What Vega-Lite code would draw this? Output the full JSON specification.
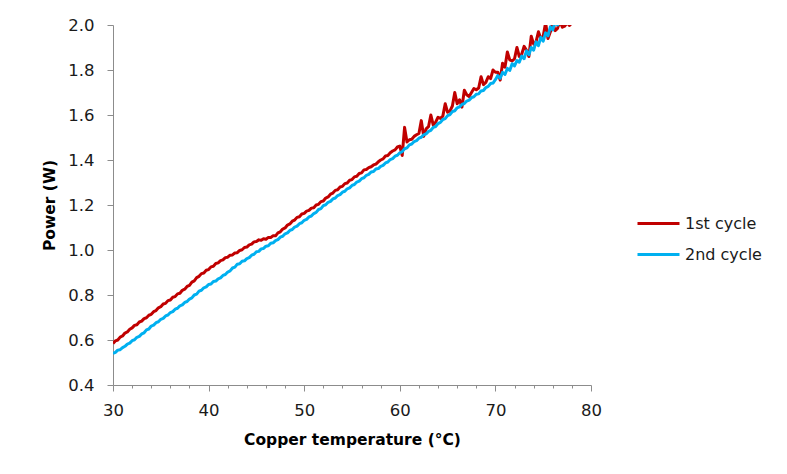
{
  "$schema": "https://vega.github.io/schema/vega-lite/v6.json",
  "autosize": {"type": "none"},
  "width": 478,
  "height": 360,
  "padding": {"left": 113, "top": 25, "right": 196, "bottom": 89},
  "background": "white",
  "config": {
    "view": {"stroke": null},
    "axis": {
      "labelFont": "DejaVu Sans", "labelFontSize": 16.5, "labelColor": "#1a1a1a",
      "titleFont": "DejaVu Sans", "titleFontWeight": "bold", "titleFontSize": 15.5, "titleColor": "#000000",
      "domain": true, "domainColor": "#8c8c8c", "domainWidth": 1, "tickColor": "#8c8c8c", "tickWidth": 1, "grid": false, "labelFlush": false
    },
    "legend": {"labelFont": "DejaVu Sans", "labelFontSize": 16, "labelColor": "#1a1a1a"}
  },
  "data": {"values": [
    {"t":30,"r":0.585,"b":0.540},{"t":30.25,"r":0.596,"b":0.545},{"t":30.5,"r":0.600,"b":0.555},{"t":30.75,"r":0.613,"b":0.557},
    {"t":31,"r":0.618,"b":0.566},{"t":31.25,"r":0.631,"b":0.572},{"t":31.5,"r":0.636,"b":0.582},{"t":31.75,"r":0.648,"b":0.586},
    {"t":32,"r":0.654,"b":0.597},{"t":32.25,"r":0.665,"b":0.601},{"t":32.5,"r":0.668,"b":0.612},{"t":32.75,"r":0.680,"b":0.616},
    {"t":33,"r":0.684,"b":0.627},{"t":33.25,"r":0.695,"b":0.632},{"t":33.5,"r":0.699,"b":0.645},{"t":33.75,"r":0.710,"b":0.649},
    {"t":34,"r":0.714,"b":0.662},{"t":34.25,"r":0.726,"b":0.666},{"t":34.5,"r":0.731,"b":0.677},{"t":34.75,"r":0.743,"b":0.681},
    {"t":35,"r":0.748,"b":0.692},{"t":35.25,"r":0.760,"b":0.696},{"t":35.5,"r":0.763,"b":0.707},{"t":35.75,"r":0.775,"b":0.711},
    {"t":36,"r":0.778,"b":0.722},{"t":36.25,"r":0.790,"b":0.726},{"t":36.5,"r":0.793,"b":0.737},{"t":36.75,"r":0.805,"b":0.741},
    {"t":37,"r":0.808,"b":0.752},{"t":37.25,"r":0.821,"b":0.756},{"t":37.5,"r":0.826,"b":0.767},{"t":37.75,"r":0.838,"b":0.771},
    {"t":38,"r":0.843,"b":0.782},{"t":38.25,"r":0.857,"b":0.787},{"t":38.5,"r":0.863,"b":0.800},{"t":38.75,"r":0.877,"b":0.804},
    {"t":39,"r":0.883,"b":0.817},{"t":39.25,"r":0.895,"b":0.821},{"t":39.5,"r":0.898,"b":0.832},{"t":39.75,"r":0.910,"b":0.836},
    {"t":40,"r":0.913,"b":0.847},{"t":40.25,"r":0.925,"b":0.849},{"t":40.5,"r":0.928,"b":0.860},{"t":40.75,"r":0.940,"b":0.862},
    {"t":41,"r":0.943,"b":0.872},{"t":41.25,"r":0.953,"b":0.876},{"t":41.5,"r":0.956,"b":0.887},{"t":41.75,"r":0.966,"b":0.891},
    {"t":42,"r":0.968,"b":0.902},{"t":42.25,"r":0.977,"b":0.907},{"t":42.5,"r":0.978,"b":0.920},{"t":42.75,"r":0.987,"b":0.924},
    {"t":43,"r":0.988,"b":0.937},{"t":43.25,"r":0.998,"b":0.939},{"t":43.5,"r":1.001,"b":0.950},{"t":43.75,"r":1.011,"b":0.952},
    {"t":44,"r":1.013,"b":0.962},{"t":44.25,"r":1.023,"b":0.966},{"t":44.5,"r":1.026,"b":0.977},{"t":44.75,"r":1.036,"b":0.981},
    {"t":45,"r":1.038,"b":0.992},{"t":45.25,"r":1.045,"b":0.994},{"t":45.5,"r":1.043,"b":1.005},{"t":45.75,"r":1.050,"b":1.007},
    {"t":46,"r":1.048,"b":1.017},{"t":46.25,"r":1.056,"b":1.019},{"t":46.5,"r":1.056,"b":1.030},{"t":46.75,"r":1.063,"b":1.032},
    {"t":47,"r":1.063,"b":1.042},{"t":47.25,"r":1.076,"b":1.046},{"t":47.5,"r":1.081,"b":1.057},{"t":47.75,"r":1.093,"b":1.061},
    {"t":48,"r":1.098,"b":1.072},{"t":48.25,"r":1.111,"b":1.076},{"t":48.5,"r":1.116,"b":1.087},{"t":48.75,"r":1.128,"b":1.091},
    {"t":49,"r":1.133,"b":1.102},{"t":49.25,"r":1.145,"b":1.106},{"t":49.5,"r":1.148,"b":1.117},{"t":49.75,"r":1.160,"b":1.121},
    {"t":50,"r":1.163,"b":1.132},{"t":50.25,"r":1.173,"b":1.136},{"t":50.5,"r":1.176,"b":1.147},{"t":50.75,"r":1.186,"b":1.151},
    {"t":51,"r":1.188,"b":1.162},{"t":51.25,"r":1.200,"b":1.167},{"t":51.5,"r":1.203,"b":1.180},{"t":51.75,"r":1.215,"b":1.184},
    {"t":52,"r":1.218,"b":1.197},{"t":52.25,"r":1.231,"b":1.201},{"t":52.5,"r":1.236,"b":1.212},{"t":52.75,"r":1.248,"b":1.216},
    {"t":53,"r":1.253,"b":1.227},{"t":53.25,"r":1.265,"b":1.231},{"t":53.5,"r":1.268,"b":1.242},{"t":53.75,"r":1.280,"b":1.246},
    {"t":54,"r":1.283,"b":1.257},{"t":54.25,"r":1.295,"b":1.261},{"t":54.5,"r":1.298,"b":1.272},{"t":54.75,"r":1.310,"b":1.276},
    {"t":55,"r":1.313,"b":1.287},{"t":55.25,"r":1.325,"b":1.291},{"t":55.5,"r":1.328,"b":1.302},{"t":55.75,"r":1.340,"b":1.306},
    {"t":56,"r":1.343,"b":1.317},{"t":56.25,"r":1.356,"b":1.321},{"t":56.5,"r":1.358,"b":1.332},{"t":56.75,"r":1.366,"b":1.336},
    {"t":57,"r":1.370,"b":1.347},{"t":57.25,"r":1.378,"b":1.349},{"t":57.5,"r":1.382,"b":1.360},{"t":57.75,"r":1.392,"b":1.362},
    {"t":58,"r":1.400,"b":1.372},{"t":58.25,"r":1.405,"b":1.376},{"t":58.5,"r":1.418,"b":1.387},{"t":58.75,"r":1.420,"b":1.391},
    {"t":59,"r":1.432,"b":1.402},{"t":59.25,"r":1.440,"b":1.406},{"t":59.5,"r":1.445,"b":1.417},{"t":59.75,"r":1.458,"b":1.421},
    {"t":60,"r":1.462,"b":1.432},{"t":60.25,"r":1.420,"b":1.437},{"t":60.5,"r":1.545,"b":1.450},{"t":60.75,"r":1.480,"b":1.454},
    {"t":61,"r":1.490,"b":1.467},{"t":61.25,"r":1.492,"b":1.471},{"t":61.5,"r":1.505,"b":1.482},{"t":61.75,"r":1.512,"b":1.486},
    {"t":62,"r":1.518,"b":1.497},{"t":62.25,"r":1.575,"b":1.501},{"t":62.5,"r":1.505,"b":1.512},{"t":62.75,"r":1.538,"b":1.516},
    {"t":63,"r":1.548,"b":1.527},{"t":63.25,"r":1.600,"b":1.532},{"t":63.5,"r":1.555,"b":1.545},{"t":63.75,"r":1.568,"b":1.549},
    {"t":64,"r":1.590,"b":1.562},{"t":64.25,"r":1.585,"b":1.567},{"t":64.5,"r":1.595,"b":1.580},{"t":64.75,"r":1.650,"b":1.584},
    {"t":65,"r":1.612,"b":1.597},{"t":65.25,"r":1.618,"b":1.602},{"t":65.5,"r":1.640,"b":1.615},{"t":65.75,"r":1.700,"b":1.619},
    {"t":66,"r":1.650,"b":1.632},{"t":66.25,"r":1.668,"b":1.636},{"t":66.5,"r":1.635,"b":1.647},{"t":66.75,"r":1.710,"b":1.651},
    {"t":67,"r":1.690,"b":1.662},{"t":67.25,"r":1.682,"b":1.666},{"t":67.5,"r":1.700,"b":1.677},{"t":67.75,"r":1.718,"b":1.681},
    {"t":68,"r":1.712,"b":1.692},{"t":68.25,"r":1.720,"b":1.694},{"t":68.5,"r":1.770,"b":1.707},{"t":68.75,"r":1.735,"b":1.709},
    {"t":69,"r":1.745,"b":1.722},{"t":69.25,"r":1.770,"b":1.727},{"t":69.5,"r":1.762,"b":1.740},{"t":69.75,"r":1.800,"b":1.742},
    {"t":70,"r":1.790,"b":1.757},{"t":70.25,"r":1.790,"b":1.775},{"t":70.5,"r":1.755,"b":1.763},{"t":70.75,"r":1.830,"b":1.790},
    {"t":71,"r":1.812,"b":1.780},{"t":71.25,"r":1.880,"b":1.807},{"t":71.5,"r":1.845,"b":1.798},{"t":71.75,"r":1.840,"b":1.828},
    {"t":72,"r":1.850,"b":1.818},{"t":72.25,"r":1.900,"b":1.842},{"t":72.5,"r":1.860,"b":1.835},{"t":72.75,"r":1.870,"b":1.862},
    {"t":73,"r":1.905,"b":1.850},{"t":73.25,"r":1.888,"b":1.885},{"t":73.5,"r":1.860,"b":1.868},{"t":73.75,"r":1.950,"b":1.900},
    {"t":74,"r":1.915,"b":1.888},{"t":74.25,"r":1.925,"b":1.925},{"t":74.5,"r":1.970,"b":1.908},{"t":74.75,"r":1.940,"b":1.945},
    {"t":75,"r":1.950,"b":1.928},{"t":75.25,"r":2.010,"b":1.965},{"t":75.5,"r":1.940,"b":1.952},{"t":75.75,"r":1.970,"b":1.992},
    {"t":76,"r":2.010,"b":1.978},{"t":76.25,"r":1.975,"b":2.015},{"t":76.5,"r":1.985,"b":2.000},{"t":76.75,"r":2.020,"b":2.040},
    {"t":77,"r":1.990,"b":2.030},{"t":77.25,"r":1.995,"b":null},{"t":77.5,"r":2.010,"b":null},{"t":77.75,"r":1.998,"b":null},
    {"t":78,"r":2.010,"b":null}
  ]},
  "transform": [{"fold": ["r", "b"], "as": ["cycle", "p"]}],
  "layer": [
    {
      "mark": {"type": "line", "strokeWidth": 3, "clip": true, "strokeJoin": "round"},
      "encoding": {
        "x": {"field": "t", "type": "quantitative",
          "scale": {"domain": [30, 80], "nice": false, "zero": false},
          "axis": {"orient": "bottom", "title": "Copper temperature (°C)", "values": [30, 40, 50, 60, 70, 80], "tickSize": 6, "labelPadding": 11, "titlePadding": 14}},
        "y": {"field": "p", "type": "quantitative",
          "scale": {"domain": [0.4, 2.0], "nice": false, "zero": false},
          "axis": {"orient": "left", "title": "Power (W)", "values": [0.4, 0.6, 0.8, 1.0, 1.2, 1.4, 1.6, 1.8, 2.0], "format": ".1f", "tickSize": 6, "labelPadding": 13, "titlePadding": 10}},
        "color": {"field": "cycle", "type": "nominal",
          "scale": {"domain": ["r", "b"], "range": ["#C00000", "#00B0F0"]},
          "legend": {"title": null, "orient": "none", "legendX": 523, "legendY": 176,
            "symbolType": "stroke", "symbolSize": 1764, "symbolStrokeWidth": 3,
            "labelOffset": 4, "rowPadding": -7,
            "labelExpr": "datum.label == 'r' ? '1st cycle' : '2nd cycle'"}}
      }
    },
    {
      "mark": {"type": "line", "opacity": 0},
      "encoding": {
        "x": {"field": "t", "type": "quantitative",
          "axis": {"orient": "bottom", "title": null, "labels": false, "domain": false, "tickSize": 3,
            "values": [32, 34, 36, 38, 42, 44, 46, 48, 52, 54, 56, 58, 62, 64, 66, 68, 72, 74, 76, 78]}},
        "y": {"field": "p", "type": "quantitative", "axis": null}
      }
    }
  ],
  "resolve": {"axis": {"x": "independent", "y": "independent"}}
}
